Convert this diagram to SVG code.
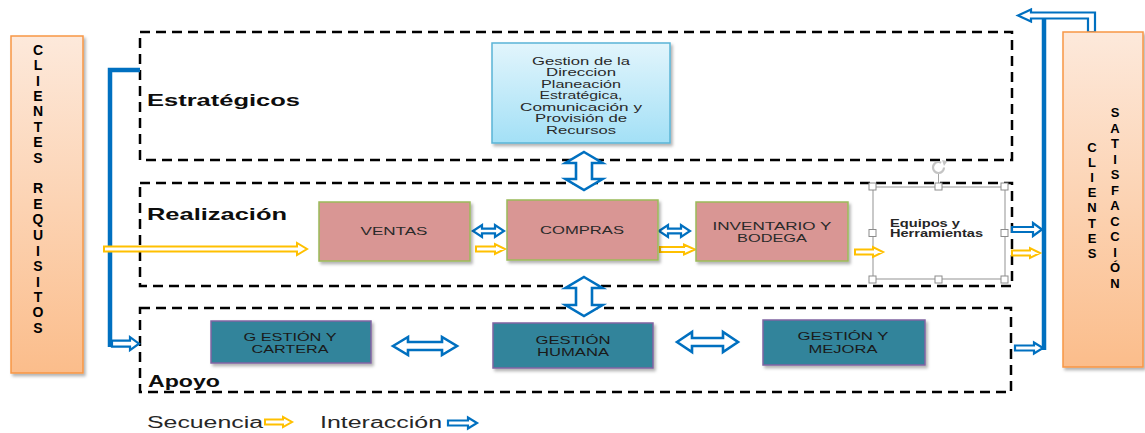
<svg xmlns="http://www.w3.org/2000/svg" width="1145" height="433" viewBox="0 0 1145 433">
  <defs>
    <linearGradient id="peach" x1="0" y1="0" x2="0" y2="1">
      <stop offset="0" stop-color="#fde9db"/>
      <stop offset="1" stop-color="#fbbd8b"/>
    </linearGradient>
    <linearGradient id="sky" x1="0" y1="0" x2="0" y2="1">
      <stop offset="0" stop-color="#e2f5fc"/>
      <stop offset="1" stop-color="#a3e0f6"/>
    </linearGradient>
    <filter id="sh" x="-10%" y="-10%" width="130%" height="140%">
      <feDropShadow dx="2" dy="2.5" stdDeviation="1.5" flood-color="#000" flood-opacity="0.3"/>
    </filter>
    <style>
      .t { font-family: "Liberation Sans", Arial, sans-serif; }
      .dash { fill: none; stroke: #000; stroke-width: 2.5; stroke-dasharray: 10 6; }
      .bline { fill: none; stroke: #0070c0; stroke-width: 4.5; }
      .blue { fill: #fff; stroke: #0070c0; stroke-width: 2.2; }
      .blue3 { fill: #fff; stroke: #0070c0; stroke-width: 2.6; }
      .yel { fill: #fff; stroke: #ffc000; stroke-width: 2; }
      .peach { fill: url(#peach); stroke: #f79646; stroke-width: 1.5; filter: url(#sh); }
      .pink { fill: #d99694; stroke: #9bbb59; stroke-width: 1.5; filter: url(#sh); }
      .teal { fill: #31849b; stroke: #8064a2; stroke-width: 1.5; filter: url(#sh); }
      .btxt { font-size: 11.5px; fill: #2a2a2a; text-anchor: middle; }
      .ttxt { font-size: 11.5px; fill: #1a1a1a; text-anchor: middle; }
      .lab { font-size: 16.5px; font-weight: bold; fill: #0d0d0d; }
      .vert { font-size: 14px; font-weight: bold; fill: #000; text-anchor: middle; }
      .vert2 { font-size: 13px; font-weight: bold; fill: #000; text-anchor: middle; }
      .leg { font-size: 16px; fill: #262626; }
      .handle { fill: #fff; stroke: #8c8c8c; stroke-width: 1; }
    </style>
  </defs>

  <!-- process area frames -->
  <g id="frames">
    <rect class="dash" x="140" y="32" width="872" height="128"/>
    <rect class="dash" x="140" y="183" width="872" height="103"/>
    <rect class="dash" x="140" y="308" width="871" height="84"/>
    <text class="t lab" x="147" y="106" textLength="153" lengthAdjust="spacingAndGlyphs">Estratégicos</text>
    <text class="t lab" x="147" y="220" textLength="140" lengthAdjust="spacingAndGlyphs">Realización</text>
    <text class="t lab" x="148" y="387" textLength="72" lengthAdjust="spacingAndGlyphs">Apoyo</text>
  </g>

  <!-- connectors -->
  <g id="connectors">
    <path class="bline" d="M140,70 H110 V347"/>
    <polygon class="blue" points="112,340.7 130,340.7 130,337.2 139,343.7 130,350.2 130,346.7 112,346.7"/>
    <polygon class="yel" points="104,246.5 297,246.5 297,243 307,249 297,255 297,251.5 104,251.5"/>

    <polygon class="blue3" points="584,152 602.5,163 592,163 592,179 602.5,179 584,190 565.5,179 576,179 576,163 565.5,163"/>
    <polygon class="blue3" points="584,277 602.5,288 592,288 592,305 602.5,305 584,316 565.5,305 576,305 576,288 565.5,288"/>

    <polygon class="blue" points="473,231 482,225 482,228.7 495,228.7 495,225 504,231 495,237 495,233.3 482,233.3 482,237"/>
    <polygon class="blue" points="659,231 668,225 668,228.7 681,228.7 681,225 690,231 681,237 681,233.3 668,233.3 668,237"/>
    <polygon class="yel" points="476,246.5 495,246.5 495,244 505,249 495,254 495,251.5 476,251.5"/>
    <polygon class="yel" points="660,247 684,247 684,244.5 695,249.5 684,254.5 684,252 660,252"/>

    <polygon class="blue3" points="393,346 408,337 408,342 442,342 442,337 457,346 442,355 442,350 408,350 408,355"/>
    <polygon class="blue3" points="677,342 692,332 692,338 723,338 723,332 738,342 723,352 723,346 692,346 692,352"/>

    <path class="bline" d="M1044,18 V350"/>
    <polygon class="blue" points="1088,32 1088,18.5 1031,18.5 1031,21.5 1018,15.5 1031,9.5 1031,12.5 1095,12.5 1095,32"/>
    <polygon class="blue" points="1012,227 1033,227 1033,223 1042,229.5 1033,236 1033,232 1012,232"/>
    <polygon class="yel" points="1012,250.5 1030,250.5 1030,248 1040,253 1030,258 1030,255.5 1012,255.5"/>
    <polygon class="blue" points="1015,345.5 1034,345.5 1034,342.5 1043,348 1034,353.5 1034,350.5 1015,350.5"/>
  </g>

  <!-- customer requirements -->
  <g id="clientes-requisitos">
    <rect class="peach" x="11" y="36" width="72" height="337"/>
    <g class="t vert">
      <text x="38" y="55">C</text>
      <text x="38" y="70">L</text>
      <text x="38" y="86">I</text>
      <text x="38" y="101">E</text>
      <text x="38" y="116">N</text>
      <text x="38" y="132">T</text>
      <text x="38" y="147">E</text>
      <text x="38" y="163">S</text>
      <text x="38" y="193">R</text>
      <text x="38" y="209">E</text>
      <text x="38" y="224">Q</text>
      <text x="38" y="240">U</text>
      <text x="38" y="256">I</text>
      <text x="38" y="271">S</text>
      <text x="38" y="287">I</text>
      <text x="38" y="302">T</text>
      <text x="38" y="317">O</text>
      <text x="38" y="333">S</text>
    </g>
  </g>

  <!-- customer satisfaction -->
  <g id="clientes-satisfaccion">
    <rect class="peach" x="1063" y="32" width="80" height="335"/>
    <g class="t vert2">
      <text x="1092" y="152">C</text>
      <text x="1092" y="167">L</text>
      <text x="1092" y="182">I</text>
      <text x="1092" y="197">E</text>
      <text x="1092" y="212">N</text>
      <text x="1092" y="228">T</text>
      <text x="1092" y="243">E</text>
      <text x="1092" y="258">S</text>
      <text x="1115" y="117">S</text>
      <text x="1115" y="132.5">A</text>
      <text x="1115" y="148">T</text>
      <text x="1115" y="163.5">I</text>
      <text x="1115" y="179">S</text>
      <text x="1115" y="194.5">F</text>
      <text x="1115" y="210">A</text>
      <text x="1115" y="225.5">C</text>
      <text x="1115" y="241">C</text>
      <text x="1115" y="256.5">I</text>
      <text x="1115" y="272">Ó</text>
      <text x="1115" y="288">N</text>
    </g>
  </g>

  <!-- strategic process -->
  <g id="gestion-direccion">
    <rect x="492" y="43" width="178" height="100" fill="url(#sky)" stroke="#5ab4d6" stroke-width="1.5" filter="url(#sh)"/>
    <g class="t btxt">
      <text x="581" y="64.5" textLength="98" lengthAdjust="spacingAndGlyphs">Gestion de la</text>
      <text x="581" y="76" textLength="70" lengthAdjust="spacingAndGlyphs">Direccion</text>
      <text x="581" y="87.5" textLength="80" lengthAdjust="spacingAndGlyphs">Planeación</text>
      <text x="581" y="99" textLength="83" lengthAdjust="spacingAndGlyphs">Estratégica,</text>
      <text x="581" y="110.5" textLength="122" lengthAdjust="spacingAndGlyphs">Comunicación y</text>
      <text x="581" y="122" textLength="92" lengthAdjust="spacingAndGlyphs">Provisión de</text>
      <text x="581" y="133.5" textLength="70" lengthAdjust="spacingAndGlyphs">Recursos</text>
    </g>
  </g>

  <!-- realization processes -->
  <g id="ventas">
    <rect class="pink" x="319" y="202" width="151" height="59"/>
    <text class="t btxt" x="394" y="235" textLength="67" lengthAdjust="spacingAndGlyphs">VENTAS</text>
  </g>
  <g id="compras">
    <rect class="pink" x="507" y="200" width="151" height="60"/>
    <text class="t btxt" x="582" y="234" textLength="84" lengthAdjust="spacingAndGlyphs">COMPRAS</text>
  </g>
  <g id="inventario">
    <rect class="pink" x="696" y="202" width="152" height="59"/>
    <text class="t btxt" x="772" y="229.5" textLength="119" lengthAdjust="spacingAndGlyphs">INVENTARIO Y</text>
    <text class="t btxt" x="772" y="241.5" textLength="70" lengthAdjust="spacingAndGlyphs">BODEGA</text>
  </g>
  <g id="equipos">
    <rect x="873" y="187" width="132" height="92" fill="#fff" stroke="#a6a6a6" stroke-width="1.2"/>
    <!-- rotation handle -->
    <line x1="938.5" y1="174" x2="938.5" y2="184" stroke="#a6a6a6" stroke-width="1"/>
    <circle cx="938.5" cy="167.5" r="5.5" fill="none" stroke="#c4c4c4" stroke-width="2.2" stroke-dasharray="28 7"/>
    <polygon points="942,160 947.5,161 944,166" fill="#c4c4c4"/>
    <rect class="handle" x="869" y="183" width="7" height="7"/>
    <rect class="handle" x="935" y="183" width="7" height="7"/>
    <rect class="handle" x="1001" y="183" width="7" height="7"/>
    <rect class="handle" x="869" y="229.5" width="7" height="7"/>
    <rect class="handle" x="1001" y="229.5" width="7" height="7"/>
    <rect class="handle" x="869" y="276" width="7" height="7"/>
    <rect class="handle" x="935" y="276" width="7" height="7"/>
    <rect class="handle" x="1001" y="276" width="7" height="7"/>
    <text class="t" x="890" y="226.5" font-size="10px" font-weight="bold" fill="#262626" textLength="70" lengthAdjust="spacingAndGlyphs">Equipos y</text>
    <text class="t" x="890" y="236.5" font-size="10px" font-weight="bold" fill="#262626" textLength="93" lengthAdjust="spacingAndGlyphs">Herramientas</text>
  </g>
  <polygon class="yel" points="855,249.5 873,249.5 873,247 883,252 873,257 873,254.5 855,254.5"/>

  <!-- support processes -->
  <g id="gestion-cartera">
    <rect class="teal" x="211" y="321" width="160" height="42"/>
    <text class="t ttxt" x="290" y="341" textLength="93" lengthAdjust="spacingAndGlyphs">G ESTIÓN Y</text>
    <text class="t ttxt" x="290" y="353" textLength="77" lengthAdjust="spacingAndGlyphs">CARTERA</text>
  </g>
  <g id="gestion-humana">
    <rect class="teal" x="493" y="323" width="160" height="45"/>
    <text class="t ttxt" x="573" y="344" textLength="75" lengthAdjust="spacingAndGlyphs">GESTIÓN</text>
    <text class="t ttxt" x="573" y="356" textLength="72" lengthAdjust="spacingAndGlyphs">HUMANA</text>
  </g>
  <g id="gestion-mejora">
    <rect class="teal" x="763" y="320" width="162" height="45"/>
    <text class="t ttxt" x="843" y="340" textLength="91" lengthAdjust="spacingAndGlyphs">GESTIÓN Y</text>
    <text class="t ttxt" x="843" y="352.5" textLength="69" lengthAdjust="spacingAndGlyphs">MEJORA</text>
  </g>

  <!-- legend -->
  <g id="legend">
    <text class="t leg" x="147" y="428" textLength="116" lengthAdjust="spacingAndGlyphs">Secuencia</text>
    <polygon class="yel" points="265,419.5 283,419.5 283,417 292,422 283,427 283,424.5 265,424.5"/>
    <text class="t leg" x="320" y="428" textLength="122" lengthAdjust="spacingAndGlyphs">Interacción</text>
    <polygon class="blue" points="448,420.5 468,420.5 468,417.5 477,423 468,428.5 468,425.5 448,425.5"/>
  </g>
</svg>
